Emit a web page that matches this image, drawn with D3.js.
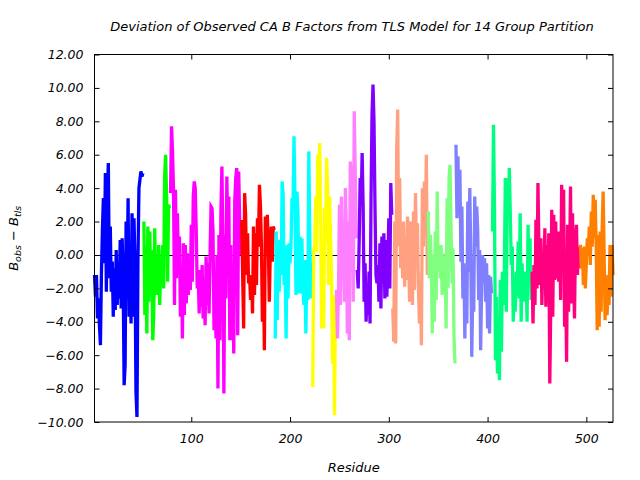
<!DOCTYPE html>
<html><head><meta charset="utf-8">
<script src="https://cdn.jsdelivr.net/npm/d3@7"></script>
<style>body{margin:0;background:#fff}svg{display:block}text{font-family:"DejaVu Sans",sans-serif;font-style:italic}</style>
</head><body>
<script>
// ---- data ----
const groupStarts = [2, 52, 79, 151, 185, 223, 247, 268, 304, 340, 368, 405, 445, 494];
const groupColors = ["#0000ff","#00ff00","#ff00ff","#ff0000","#00ffff","#ffff00","#ff80ff","#8000ff","#ffa080","#80ff80","#8080ff","#00ff80","#ff0080","#ff8000"];
const g1 = [-1.2,-2.5,-1.2,-3.8,-2.6,-4.2,-5.4,-1.2,1.5,3.4,-0.5,4.9,-2.2,3.5,5.5,-1.4,1.7,-2.2,-0.4,-3.7,-0.8,-3.3,0.3,-3.0,-0.5,-2.6,0.9,-3.2,1.0,-1.4,-7.8,-6.6,2.0,-2.4,3.4,-3.7,-0.8,-4.1,2.5,-3.7,2.2,-0.6,-8.2,-9.7,-0.3,4.0,4.5,5.0,4.7,4.9];
const g2 = [2.0,-3.6,0.5,-4.7,1.7,-2.8,1.4,-2.4,0.3,-5.1,-3.5,1.6,-2.4,-0.5,-2.4,0.6,-3.0,-0.6,-1.2,0.6,-2.0,4.7,6.0,3.5,-1.6,3.0,2.8];
const g3 = [3.7,7.7,6.2,3.9,-3.0,3.9,-1.4,2.5,-1.0,1.1,-3.7,-0.7,-5.0,0.7,-3.6,0.6,-2.9,0.1,-2.4,-0.5,-2.1,1.8,-1.6,3.5,4.4,4.0,1.5,-2.0,-1.2,-3.5,-0.9,-3.1,-0.6,-3.8,-1.8,-4.2,-0.1,-3.0,-0.5,-3.5,0.0,2.9,2.8,1.4,-4.5,-1.0,-5.0,0.0,-8.0,1.2,-5.1,2.6,5.3,1.0,-8.3,1.2,-2.6,4.7,1.2,3.5,-5.1,0.6,-5.1,-1.0,-5.9,3.2,4.6,5.2,-4.8,5.0,2.0,0.0];
const g4 = [2.1,-1.2,-4.4,3.7,2.4,-1.2,1.3,-1.7,-1.2,-2.7,-1.4,-3.5,1.7,-2.4,1.3,-1.8,2.2,0.5,4.2,3.0,0.7,-4.0,-1.0,-5.7,2.3,1.1,2.4,0.5,-2.8,0.2,1.7,-0.4,1.7,1.5];
const g5 = [-5.0,1.4,-3.9,0.9,-2.2,0.7,-1.2,4.4,3.6,-1.8,-0.5,-5.0,0.6,-2.6,0.7,-0.5,0.6,3.4,2.8,7.1,3.4,-2.4,3.8,2.5,-2.3,1.1,-2.3,1.0,-2.0,-3.0,-0.3,-4.7,-1.0,-2.7,6.2,1.0,-2.6,-0.5];
const g6 = [-7.9,0.3,0.6,3.5,0.2,6.0,4.0,6.7,2.2,-4.4,0.5,-4.4,2.8,0.7,5.8,4.0,-1.8,3.5,1.0,-1.2,-6.5,-2.5,-9.6,-2.4];
const g7 = [-2.1,-5.0,-2.3,3.0,-3.0,3.5,-1.5,1.6,-2.8,4.0,1.6,-4.7,2.0,-5.1,5.6,1.0,5.4,-2.8,8.6,5.0,1.0];
const g8 = [-0.9,-2.0,0.8,4.6,3.0,6.1,2.9,-2.8,-0.5,-4.0,-2.0,-3.6,-1.0,-4.1,3.3,8.4,10.2,8.0,2.9,-1.2,-1.7,-0.6,-2.8,0.7,-3.2,1.1,-1.7,1.3,-2.6,0.9,-2.5,-0.5,2.2,-2.0,4.3,2.4];
const g9 = [-3.2,-5.2,2.0,-5.3,6.3,8.7,0.5,4.6,-0.8,1.9,-1.4,2.0,-1.9,0.8,-1.5,2.3,0.2,-2.8,2.0,-0.6,-3.0,2.6,-2.1,3.7,0.2,1.9,-2.0,-4.1,-1.5,-5.4,4.0,0.5,4.4,1.3,6.0,-1.2];
const g10 = [2.6,-1.4,1.2,-0.2,-4.7,0.0,-4.0,1.4,-2.7,3.8,-1.0,0.5,-1.4,0.6,-2.4,0.1,-2.2,-0.5,-4.4,3.4,-2.0,4.6,5.4,1.6,-1.7,0.4,-4.9,-6.5];
const g11 = [6.6,2.2,5.9,2.4,5.1,-0.4,2.9,-2.6,-0.5,-5.0,-1.2,-4.1,3.2,-1.0,4.0,0.0,-6.1,-2.0,-3.4,3.5,0.5,2.9,1.5,-2.7,0.3,-5.7,-1.8,0.0,-1.7,-0.2,-2.8,-0.5,-4.4,-1.2,-4.7,-1.3,-2.3];
const g12 = [1.4,7.8,2.8,-6.3,-2.5,-7.1,-4.3,-7.5,-1.5,-5.8,-1.0,-3.0,-0.8,4.6,-3.4,4.6,2.2,5.2,2.5,-0.6,0.5,-4.0,-1.5,-3.4,-1.0,-2.4,0.8,-2.6,2.5,-4.0,-0.5,-2.8,-1.0,-2.8,-1.0,-4.0,1.8,-1.8,1.0,-2.7];
const g13 = [-1.0,-4.1,-0.6,-3.0,2.1,-2.0,4.3,0.5,-1.8,1.0,-3.0,-0.4,-1.8,1.6,-3.1,0.6,-2.4,1.3,-7.7,-3.0,2.7,-3.7,2.4,-1.5,2.0,-1.4,1.4,-1.6,1.4,-2.7,4.2,1.6,3.9,-4.3,-1.2,-6.4,1.8,-3.4,-0.8,4.1,-2.9,2.5,-1.2,-3.8,0.9,1.8,-1.2,0.5,-0.8];
const g14 = [0.6,-0.8,0.4,-1.8,0.5,-2.0,-0.5,1.0,0.2,1.7,-0.6,2.6,0.5,3.6,1.0,3.3,0.5,-4.5,1.2,-4.3,1.4,-3.4,1.5,3.8,0.2,-3.9,-1.2,-3.6,-2.2,-3.0,0.6,-2.5,0.6,-1.2];
const groupValues = [g1,g2,g3,g4,g5,g6,g7,g8,g9,g10,g11,g12,g13,g14];
const xTicks = [100, 200, 300, 400, 500];
const yTicks = [-10, -8, -6, -4, -2, 0, 2, 4, 6, 8, 10, 12];
const titleText = "Deviation of Observed CA B Factors from TLS Model for 14 Group Partition";
const xLabel = "Residue";

// ---- chart ----
const W = 640, H = 480;
const L = 94.5, R = 613, T = 54.5, B = 422;
const svg = d3.select("body").append("svg").attr("width", W).attr("height", H);
const x = d3.scaleLinear().domain([2, 527]).range([L, R]);
const y = d3.scaleLinear().domain([-10, 12]).range([B, T]);

// zero line
svg.append("line").attr("x1", L).attr("x2", R).attr("y1", Math.round(y(0)) + 0.5).attr("y2", Math.round(y(0)) + 0.5)
  .attr("stroke", "#000").attr("stroke-width", 1);

const line = d3.line().x(d => x(d[0])).y(d => y(d[1]));
groupValues.forEach((vals, gi) => {
  const pts = vals.map((v, i) => [groupStarts[gi] + i, v]);
  svg.append("path").attr("d", line(pts)).attr("fill", "none")
    .attr("stroke", groupColors[gi]).attr("stroke-width", 3.3);
});

// axes (ticks inward, mirrored)
const axB = d3.axisBottom(x).tickValues(xTicks).tickSize(-5).tickPadding(12).tickFormat(d3.format("d"));
const axT = d3.axisTop(x).tickValues(xTicks).tickSize(-5).tickFormat("");
const axL = d3.axisLeft(y).tickValues(yTicks).tickSize(-5).tickPadding(11).tickFormat(d3.format(".2f"));
const axR = d3.axisRight(y).tickValues(yTicks).tickSize(-5).tickFormat("");
function style(g) {
  g.select(".domain").remove();
  g.selectAll("line").attr("stroke", "#000");
  g.selectAll("text").attr("fill", "#000").style("font-size", "12.5px").style("font-family", "DejaVu Sans, sans-serif").style("font-style", "italic");
}
svg.append("g").attr("transform", `translate(0,${B})`).call(axB).call(style);
svg.append("g").attr("transform", `translate(0,${T})`).call(axT).call(style);
svg.append("g").attr("transform", `translate(${L},0)`).call(axL).call(style);
svg.append("g").attr("transform", `translate(${R},0)`).call(axR).call(style);

// frame
svg.append("rect").attr("x", L).attr("y", T).attr("width", R - L).attr("height", B - T)
  .attr("fill", "none").attr("stroke", "#000").attr("stroke-width", 1);

// title and labels
svg.append("text").attr("x", 352).attr("y", 31).attr("text-anchor", "middle")
  .style("font-size", "13px").text(titleText);
svg.append("text").attr("x", (L + R) / 2).attr("y", 472).attr("text-anchor", "middle")
  .style("font-size", "13px").text(xLabel);
const yl = svg.append("text").attr("transform", `translate(18,${(T + B) / 2}) rotate(-90)`).attr("text-anchor", "middle")
  .style("font-size", "13px");
yl.append("tspan").text("B");
yl.append("tspan").attr("dy", 3).style("font-size", "9.5px").text("obs");
yl.append("tspan").attr("dy", -3).text(" − B");
yl.append("tspan").attr("dy", 3).style("font-size", "9.5px").text("tls");
</script>
</body></html>
